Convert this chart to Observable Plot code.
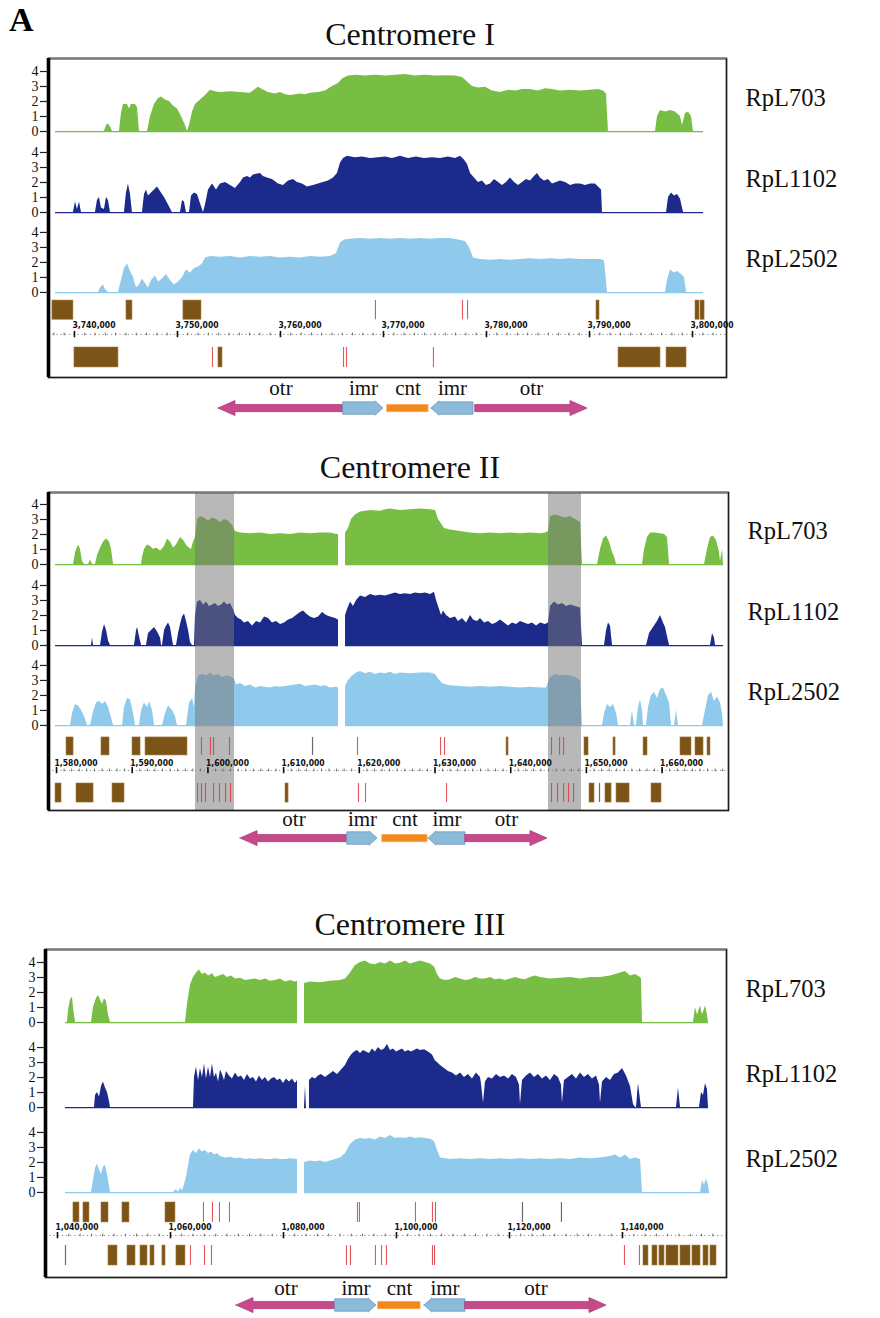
<!DOCTYPE html>
<html>
<head>
<meta charset="utf-8">
<script src="https://cdn.jsdelivr.net/npm/d3@7"></script>
<script src="https://cdn.jsdelivr.net/npm/@observablehq/plot@0.6"></script>
<style>
html,body{margin:0;padding:0;background:#fff;}
body{position:relative;width:880px;height:1318px;overflow:hidden;font-family:"Liberation Serif","Times New Roman",serif;color:#000;}
.abs{position:absolute;}
.title{position:absolute;left:0;width:820px;text-align:center;font-size:32px;line-height:32px;white-space:nowrap;color:#111;}
#panelA{left:9px;top:3px;font-size:34px;font-weight:bold;line-height:34px;}
</style>
</head>
<body>
<div id="panelA" class="abs">A</div>
<div class="title" style="top:18px">Centromere I</div>
<div id="p1" class="abs" style="left:0;top:50px"></div>
<div class="title" style="top:451px">Centromere II</div>
<div id="p2" class="abs" style="left:0;top:485px"></div>
<div class="title" style="top:908px">Centromere III</div>
<div id="p3" class="abs" style="left:0;top:942px"></div>
<script>
// ---------------- DATA ----------------
const trackNames = ["RpL703", "RpL1102", "RpL2502"];
const trackColors = ["#78bd44", "#1c2b8b", "#8fc9ec"];
const yTicks = [0, 1, 2, 3, 4];

// positions in kb, values = ChIP enrichment (null = no data / gap)
// ---- Centromere I ----
const c1_RpL703 = [[3738.16,0],[3742.91,0],[3743.11,0.4],[3743.30,0.5],[3743.50,0.3],[3743.69,0],[3744.37,0],[3744.56,1.2],[3744.76,1.8],[3745.15,1.8],[3745.34,1.5],[3745.53,1.8],[3745.92,1.8],[3746.12,1.6],[3746.31,0],[3747.09,0],[3747.38,1.0],[3747.77,1.8],[3748.16,2.2],[3748.45,2.3],[3748.83,2.1],[3749.22,2.0],[3749.61,1.7],[3750.00,1.5],[3750.39,1.0],[3750.78,0.4],[3750.97,0],[3751.17,0.4],[3751.46,1.3],[3751.75,1.8],[3752.23,2.1],[3752.72,2.4],[3753.20,2.75],[3753.69,2.65],[3754.17,2.6],[3755.15,2.65],[3756.12,2.6],[3757.09,2.55],[3757.57,2.8],[3757.86,2.95],[3758.25,2.8],[3758.83,2.6],[3759.51,2.5],[3760.00,2.6],[3760.49,2.45],[3760.97,2.4],[3761.94,2.5],[3762.43,2.45],[3762.91,2.55],[3763.69,2.6],[3764.37,2.7],[3765.05,3.0],[3765.63,3.2],[3766.02,3.5],[3766.60,3.7],[3767.28,3.75],[3768.25,3.7],[3769.22,3.75],[3770.19,3.7],[3771.17,3.75],[3772.14,3.8],[3773.11,3.7],[3774.08,3.75],[3775.05,3.7],[3776.02,3.72],[3776.99,3.7],[3777.67,3.6],[3778.16,3.3],[3778.64,3.0],[3779.22,2.9],[3779.90,2.95],[3780.58,2.7],[3781.36,2.6],[3782.14,2.75],[3782.82,2.7],[3783.50,2.8],[3784.27,2.8],[3785.05,2.7],[3785.73,2.85],[3786.41,2.8],[3787.18,2.7],[3788.16,2.75],[3789.13,2.7],[3790.10,2.75],[3790.87,2.8],[3791.36,2.7],[3791.65,2.5],[3791.84,0],[3796.41,0],[3796.60,1.0],[3796.89,1.4],[3797.38,1.3],[3797.86,1.4],[3798.35,1.3],[3798.83,1.0],[3799.03,0.4],[3799.32,1.2],[3799.61,1.3],[3799.90,1.0],[3800.10,0],[3801.07,0]];
const c1_RpL1102 = [[3738.16,0],[3739.90,0],[3740.10,0.7],[3740.29,0.2],[3740.49,0.7],[3740.68,0],[3742.04,0],[3742.23,0.8],[3742.43,1.0],[3742.62,0.3],[3742.91,0.2],[3743.11,1.0],[3743.30,0.8],[3743.50,0],[3744.85,0],[3745.05,1.3],[3745.24,1.9],[3745.44,1.2],[3745.63,0],[3746.60,0],[3746.80,1.2],[3746.99,1.5],[3747.18,1.1],[3747.48,1.3],[3747.77,1.5],[3748.06,1.7],[3748.35,1.4],[3748.74,1.0],[3749.13,0.5],[3749.51,0],[3750.29,0],[3750.49,0.8],[3750.68,0.7],[3750.87,0],[3751.17,0],[3751.36,1.1],[3751.65,1.3],[3751.94,1.2],[3752.23,0.6],[3752.52,0],[3752.72,0.5],[3753.01,1.5],[3753.40,1.9],[3753.79,1.5],[3754.17,1.9],[3754.66,2.0],[3755.15,1.8],[3755.63,1.6],[3756.12,2.0],[3756.41,2.3],[3756.80,2.4],[3757.09,2.3],[3757.38,2.5],[3757.67,2.55],[3758.06,2.6],[3758.35,2.4],[3758.74,2.3],[3759.22,2.2],[3759.81,1.9],[3760.29,1.8],[3760.78,2.1],[3761.26,2.2],[3761.65,2.0],[3762.14,1.9],[3762.62,1.7],[3763.20,1.8],[3763.69,1.9],[3764.17,2.0],[3764.66,2.1],[3765.15,2.3],[3765.53,2.6],[3765.83,3.3],[3766.12,3.6],[3766.50,3.75],[3767.28,3.65],[3767.96,3.7],[3768.74,3.6],[3769.51,3.65],[3770.19,3.7],[3770.87,3.6],[3771.65,3.75],[3772.43,3.6],[3773.20,3.7],[3773.98,3.6],[3774.76,3.65],[3775.53,3.6],[3776.31,3.7],[3776.99,3.6],[3777.48,3.75],[3777.86,3.5],[3778.16,3.2],[3778.45,2.6],[3778.83,2.3],[3779.22,2.0],[3779.61,2.1],[3780.00,1.8],[3780.39,1.9],[3780.78,2.2],[3781.17,2.0],[3781.55,1.8],[3781.94,2.0],[3782.33,2.3],[3782.72,2.0],[3783.11,1.8],[3783.50,2.0],[3783.88,2.2],[3784.27,2.1],[3784.66,2.4],[3784.95,2.6],[3785.24,2.3],[3785.63,2.1],[3786.02,2.2],[3786.41,1.9],[3786.80,2.0],[3787.18,2.1],[3787.67,2.0],[3788.16,1.8],[3788.64,1.9],[3789.13,1.9],[3789.61,1.8],[3790.10,1.9],[3790.58,1.9],[3790.87,1.7],[3791.17,1.5],[3791.26,0],[3797.48,0],[3797.67,1.0],[3797.96,1.3],[3798.25,1.1],[3798.54,1.2],[3798.83,0.9],[3799.13,0],[3801.07,0]];
const c1_RpL2502 = [[3738.16,0],[3742.33,0],[3742.52,0.3],[3742.82,0.5],[3743.01,0.2],[3743.30,0],[3744.27,0],[3744.56,0.8],[3744.85,1.6],[3745.15,1.9],[3745.44,1.4],[3745.73,1.0],[3746.02,0.3],[3746.31,0.5],[3746.60,0.9],[3746.89,0.6],[3747.18,0.3],[3747.48,0.8],[3747.86,1.1],[3748.16,0.7],[3748.54,0.9],[3748.93,1.2],[3749.32,0.8],[3749.71,0.5],[3750.10,0.7],[3750.49,1.0],[3750.87,1.5],[3751.26,1.3],[3751.65,1.6],[3752.04,1.7],[3752.43,1.9],[3752.72,2.3],[3753.20,2.4],[3754.17,2.35],[3755.15,2.4],[3756.12,2.3],[3757.09,2.4],[3758.06,2.35],[3759.03,2.4],[3760.00,2.3],[3760.97,2.35],[3761.94,2.3],[3762.91,2.4],[3763.88,2.35],[3764.85,2.4],[3765.44,2.6],[3765.83,3.3],[3766.21,3.5],[3766.80,3.55],[3767.77,3.6],[3768.74,3.55],[3769.71,3.6],[3770.68,3.55],[3771.65,3.6],[3772.62,3.55],[3773.59,3.6],[3774.56,3.55],[3775.53,3.6],[3776.50,3.6],[3777.28,3.5],[3777.96,3.4],[3778.35,3.0],[3778.74,2.3],[3779.42,2.2],[3780.39,2.15],[3781.36,2.2],[3782.33,2.15],[3783.30,2.2],[3784.27,2.25],[3785.24,2.2],[3786.21,2.25],[3787.18,2.2],[3788.16,2.25],[3789.13,2.2],[3790.10,2.2],[3791.07,2.2],[3791.46,2.1],[3791.75,0],[3797.38,0],[3797.57,0.8],[3797.86,1.5],[3798.25,1.3],[3798.54,1.4],[3798.93,1.2],[3799.22,1.0],[3799.42,0],[3801.07,0]];
const c1_genesTop = [[3737.86,3739.90],[3745.05,3745.63],[3750.58,3752.33],[3790.68,3790.97],[3800.29,3800.68],[3800.78,3801.17]];
const c1_genesBottom = [[3740.00,3744.27],[3753.98,3754.37],[3792.82,3796.89],[3797.48,3799.42]];
const c1_featTop = [3769.22,3777.67,3778.16];
const c1_featBottom = [3753.40,3766.12,3766.41,3774.85];
const c1_otherTop = [];
const c1_otherBottom = [];
const c1_ticks = [3740,3750,3760,3770,3780,3790,3800];
const c1_regions = [
  {name:"otr", start:3753.98, end:3766.12, dir:"left"},
  {name:"imr", start:3766.12, end:3770.00, dir:"right"},
  {name:"cnt", start:3770.39, end:3774.37, dir:"none"},
  {name:"imr", start:3774.66, end:3778.74, dir:"left"},
  {name:"otr", start:3778.93, end:3789.81, dir:"right"}];
const c1_bands = [];

// ---- Centromere II ----
const c2_RpL703 = [[1579.87,0],[1582.25,0],[1582.51,0.8],[1582.91,1.3],[1583.17,1.0],[1583.43,0.2],[1583.70,0],[1584.23,0],[1584.49,0.3],[1584.76,0],[1585.15,0],[1585.42,0.6],[1585.81,1.1],[1586.21,1.5],[1586.61,1.7],[1587.00,1.5],[1587.27,1.0],[1587.53,0],[1591.23,0],[1591.36,0.5],[1591.62,1.0],[1592.02,1.3],[1592.42,1.2],[1592.81,1.0],[1593.21,1.1],[1593.74,0.9],[1594.27,1.2],[1594.66,1.7],[1595.06,1.5],[1595.46,1.1],[1595.85,1.3],[1596.38,1.8],[1596.78,1.6],[1597.31,1.2],[1597.83,1.0],[1598.10,1.5],[1598.36,1.8],[1598.63,3.0],[1599.02,3.2],[1599.55,3.1],[1600.08,2.9],[1600.61,3.1],[1601.14,3.0],[1601.66,2.8],[1602.19,3.0],[1602.72,2.9],[1603.25,2.6],[1603.65,2.2],[1604.31,2.1],[1605.63,2.05],[1606.95,2.1],[1608.27,2.0],[1609.59,2.05],[1610.91,2.0],[1612.23,2.1],[1613.55,2.05],[1614.87,2.1],[1616.20,2.1],[1616.99,2.0],[1617.25,2.0],[1617.7,null],[1618.18,2.1],[1618.57,2.4],[1618.97,3.0],[1619.50,3.3],[1620.16,3.5],[1621.48,3.6],[1622.80,3.55],[1623.46,3.65],[1624.12,3.7],[1625.44,3.6],[1626.76,3.65],[1628.08,3.7],[1629.41,3.65],[1630.07,3.6],[1630.46,3.0],[1630.86,2.7],[1631.25,2.4],[1632.05,2.3],[1633.37,2.2],[1634.69,2.1],[1636.01,2.05],[1637.33,2.1],[1638.65,2.05],[1639.97,2.1],[1641.29,2.05],[1642.62,2.1],[1643.94,2.05],[1644.60,2.1],[1644.99,2.2],[1645.26,3.2],[1645.92,3.3],[1646.58,3.2],[1647.24,3.1],[1647.90,3.2],[1648.56,3.0],[1649.22,2.8],[1649.48,0],[1651.47,0],[1651.86,1.0],[1652.26,1.7],[1652.66,1.9],[1653.05,1.5],[1653.45,0.8],[1653.71,0.5],[1653.98,0],[1657.41,0],[1657.68,1.0],[1658.07,1.8],[1658.47,2.1],[1659.13,2.1],[1659.79,2.05],[1660.32,2.0],[1660.71,1.8],[1660.98,0],[1665.60,0],[1665.99,1.0],[1666.39,1.8],[1666.79,1.9],[1667.19,1.6],[1667.58,0.8],[1667.71,0.2],[1667.98,1.0],[1668.11,0]];
const c2_RpL1102 = [[1579.87,0],[1584.62,0],[1584.76,0.5],[1584.89,0],[1585.81,0],[1586.08,0.9],[1586.34,1.4],[1586.61,1.0],[1586.87,0.3],[1587.13,0],[1590.30,0],[1590.57,1.0],[1590.70,1.2],[1590.96,0.6],[1591.23,0],[1591.89,0],[1592.15,0.8],[1592.55,1.0],[1592.95,1.2],[1593.34,0.9],[1593.74,0.5],[1593.87,0],[1594.00,0],[1594.27,1.0],[1594.53,1.3],[1594.80,1.5],[1595.06,1.2],[1595.32,0.4],[1595.46,0],[1595.85,0],[1596.12,0.8],[1596.38,1.4],[1596.64,1.9],[1596.91,2.1],[1597.17,1.6],[1597.44,1.0],[1597.70,0.2],[1597.97,0],[1598.23,0],[1598.36,2.0],[1598.63,2.9],[1599.02,3.0],[1599.42,2.7],[1599.82,2.9],[1600.21,2.6],[1600.61,2.7],[1601.00,2.8],[1601.40,2.6],[1601.80,2.7],[1602.19,2.9],[1602.59,2.7],[1602.99,2.8],[1603.38,2.4],[1603.65,2.0],[1604.04,1.8],[1604.44,1.7],[1604.83,1.5],[1605.36,1.6],[1605.89,1.3],[1606.42,1.6],[1606.95,1.5],[1607.48,1.9],[1608.01,1.8],[1608.53,1.5],[1609.06,1.6],[1609.59,1.4],[1610.12,1.5],[1610.65,1.7],[1611.18,1.8],[1611.70,2.0],[1612.23,2.2],[1612.63,2.3],[1613.03,2.1],[1613.55,1.9],[1614.08,1.8],[1614.61,1.9],[1615.14,2.2],[1615.67,2.0],[1616.20,1.9],[1616.86,1.8],[1617.25,1.7],[1617.7,null],[1618.18,2.0],[1618.44,2.4],[1618.84,2.9],[1619.23,2.6],[1619.63,3.0],[1620.16,3.3],[1620.82,3.2],[1621.48,3.4],[1622.14,3.3],[1622.80,3.35],[1623.46,3.3],[1624.12,3.4],[1624.78,3.5],[1625.44,3.4],[1626.10,3.45],[1626.76,3.4],[1627.42,3.5],[1628.08,3.45],[1628.75,3.5],[1629.41,3.4],[1629.93,3.55],[1630.20,3.0],[1630.46,2.6],[1630.86,2.0],[1631.12,2.3],[1631.52,2.0],[1632.05,1.8],[1632.71,1.9],[1633.10,1.6],[1633.63,1.8],[1634.16,1.5],[1634.69,2.0],[1635.09,1.7],[1635.61,1.6],[1636.01,1.8],[1636.54,1.5],[1637.07,1.6],[1637.60,1.4],[1638.12,1.5],[1638.65,1.7],[1639.18,1.5],[1639.71,1.3],[1640.24,1.5],[1640.77,1.4],[1641.29,1.6],[1641.82,1.5],[1642.35,1.4],[1642.88,1.5],[1643.41,1.3],[1643.94,1.5],[1644.60,1.4],[1644.99,1.5],[1645.26,2.6],[1645.79,2.9],[1646.31,2.7],[1646.84,2.8],[1647.37,2.6],[1647.90,2.7],[1648.56,2.6],[1649.22,2.5],[1649.48,0],[1652.39,0],[1652.66,1.0],[1652.92,1.5],[1653.18,1.3],[1653.45,0],[1657.94,0],[1658.34,0.8],[1658.86,1.2],[1659.39,1.6],[1659.79,2.0],[1660.18,1.5],[1660.45,1.2],[1660.71,0.6],[1660.98,0],[1666.39,0],[1666.66,0.8],[1666.92,0.5],[1667.05,0],[1668.11,0]];
const c2_RpL2502 = [[1579.87,0],[1581.85,0],[1582.11,0.8],[1582.51,1.4],[1582.91,1.3],[1583.30,1.0],[1583.70,0.6],[1584.10,0],[1584.49,0],[1584.89,0.9],[1585.28,1.5],[1585.68,1.6],[1586.08,1.4],[1586.47,1.6],[1586.87,1.2],[1587.27,0.5],[1587.53,0],[1588.72,0],[1588.98,1.2],[1589.38,1.8],[1589.78,1.7],[1590.17,0.8],[1590.44,0],[1590.96,0],[1591.23,1.0],[1591.62,1.5],[1592.02,1.2],[1592.29,1.6],[1592.68,1.0],[1592.95,0],[1594.00,0],[1594.40,0.8],[1594.80,1.3],[1595.32,1.0],[1595.72,0.6],[1595.98,0],[1597.17,0],[1597.57,1.5],[1597.97,1.8],[1598.23,1.2],[1598.36,2.5],[1598.76,3.3],[1599.29,3.4],[1599.82,3.3],[1600.34,3.5],[1600.87,3.3],[1601.40,3.4],[1601.93,3.2],[1602.46,3.3],[1602.99,3.25],[1603.51,3.1],[1603.78,2.7],[1604.31,2.8],[1604.97,2.6],[1605.63,2.7],[1606.29,2.5],[1606.95,2.6],[1607.61,2.55],[1608.27,2.5],[1608.93,2.6],[1609.59,2.55],[1610.25,2.6],[1610.91,2.65],[1611.57,2.7],[1612.23,2.75],[1612.89,2.6],[1613.55,2.65],[1614.21,2.7],[1614.87,2.6],[1615.54,2.65],[1616.20,2.5],[1616.99,2.55],[1617.25,2.5],[1617.7,null],[1618.18,2.6],[1618.57,3.0],[1619.10,3.3],[1619.63,3.5],[1620.16,3.6],[1620.82,3.45],[1621.48,3.55],[1622.14,3.4],[1622.80,3.5],[1623.46,3.45],[1624.12,3.55],[1624.78,3.4],[1625.44,3.5],[1626.76,3.45],[1628.08,3.5],[1629.41,3.5],[1630.07,3.4],[1630.46,3.1],[1630.99,2.8],[1631.52,2.7],[1632.05,2.65],[1633.37,2.6],[1634.69,2.55],[1636.01,2.6],[1637.33,2.55],[1638.65,2.6],[1639.97,2.55],[1641.29,2.5],[1642.62,2.55],[1643.94,2.5],[1644.73,2.5],[1645.26,3.2],[1645.92,3.4],[1646.58,3.3],[1647.24,3.35],[1647.90,3.3],[1648.56,3.2],[1649.22,3.0],[1649.48,0],[1652.13,0],[1652.39,0.8],[1652.79,1.4],[1653.18,1.2],[1653.58,1.4],[1653.98,0.8],[1654.24,0],[1655.82,0],[1656.08,1.0],[1656.35,0],[1656.61,0],[1656.88,1.2],[1657.15,1.7],[1657.41,1.0],[1657.54,0],[1657.94,0],[1658.20,1.2],[1658.60,2.0],[1658.99,2.2],[1659.39,1.8],[1659.79,2.4],[1660.18,2.5],[1660.58,2.0],[1660.98,1.5],[1661.24,0],[1661.64,0],[1661.90,1.0],[1662.17,0],[1665.34,0],[1665.73,1.0],[1666.13,2.0],[1666.53,2.2],[1666.92,1.6],[1667.32,1.9],[1667.71,1.5],[1667.98,0.8],[1668.11,0]];
const c2_genesTop = [[1581.32,1582.25],[1585.94,1587.00],[1590.04,1591.10],[1591.76,1597.30],[1639.45,1639.71],[1649.75,1650.28],[1653.58,1653.85],[1657.55,1658.07],[1662.43,1663.88],[1664.41,1665.47],[1666.00,1666.39]];
const c2_genesBottom = [[1579.87,1580.66],[1582.64,1584.89],[1587.40,1588.98],[1610.25,1610.65],[1650.41,1651.07],[1652.52,1653.32],[1653.98,1655.70],[1658.60,1659.92]];
const c2_featTop = [1599.15,1600.34,1600.74,1602.85,1619.76,1630.73,1631.26,1645.39,1646.45,1646.98];
const c2_featBottom = [1598.63,1599.15,1599.68,1600.74,1601.53,1602.33,1602.99,1619.89,1620.82,1631.52,1645.39,1646.18,1646.98,1647.64,1648.30];
const c2_otherTop = [1613.82];
const c2_otherBottom = [1651.73];
const c2_ticks = [1580,1590,1600,1610,1620,1630,1640,1650,1660];
const c2_regions = [
  {name:"otr", start:1604.31, end:1618.44, dir:"left"},
  {name:"imr", start:1618.44, end:1622.40, dir:"right"},
  {name:"cnt", start:1623.07, end:1629.01, dir:"none"},
  {name:"imr", start:1629.14, end:1634.03, dir:"left"},
  {name:"otr", start:1634.03, end:1644.86, dir:"right"}];
const c2_bands = [[1598.36,1603.51],[1644.99,1649.35]];

// ---- Centromere III ----
const c3_RpL703 = [[1041.42,0],[1041.77,0],[1041.95,0.8],[1042.30,1.5],[1042.65,1.7],[1042.83,1.0],[1043.19,0],[1046.02,0],[1046.37,1.0],[1046.90,1.6],[1047.26,1.8],[1047.61,1.5],[1047.96,1.2],[1048.32,1.6],[1048.67,1.4],[1049.03,0.5],[1049.38,0],[1062.65,0],[1063.01,1.2],[1063.54,2.5],[1064.07,3.0],[1064.60,3.3],[1065.13,3.5],[1065.66,3.2],[1066.19,3.3],[1066.73,3.1],[1067.43,3.25],[1067.96,3.0],[1068.67,3.1],[1069.38,3.2],[1070.09,3.0],[1070.80,3.1],[1071.50,2.9],[1072.39,2.95],[1073.27,2.8],[1074.16,2.85],[1075.04,2.9],[1075.93,2.8],[1076.81,2.9],[1077.70,2.75],[1078.58,2.8],[1079.47,2.9],[1080.35,2.7],[1081.24,2.8],[1082.12,2.7],[1082.48,2.75],[1083.2,null],[1083.72,2.6],[1084.78,2.7],[1086.55,2.65],[1088.32,2.75],[1090.09,2.8],[1090.97,2.9],[1091.86,3.3],[1092.74,3.8],[1093.63,4.0],[1094.51,4.1],[1095.40,3.9],[1096.28,3.85],[1097.17,4.0],[1098.05,3.9],[1098.94,4.1],[1099.82,3.9],[1100.71,3.95],[1101.59,4.1],[1102.48,3.9],[1103.36,4.0],[1104.25,4.1],[1105.13,4.0],[1106.02,3.9],[1106.73,3.7],[1107.26,3.2],[1107.79,2.9],[1108.67,2.8],[1109.56,2.85],[1110.44,3.0],[1111.33,2.9],[1112.21,2.8],[1113.10,2.85],[1113.98,3.0],[1114.87,2.9],[1115.75,2.9],[1116.64,3.0],[1117.52,2.85],[1118.41,2.9],[1119.29,2.8],[1120.18,2.9],[1121.06,3.0],[1121.95,2.9],[1122.83,2.85],[1123.72,3.0],[1124.60,3.1],[1125.49,3.0],[1127.26,2.9],[1129.03,2.95],[1130.80,3.0],[1132.57,2.9],[1134.34,3.0],[1136.11,3.0],[1137.88,3.1],[1139.65,3.3],[1140.53,3.4],[1141.42,3.1],[1142.30,3.2],[1143.19,3.0],[1143.36,2.9],[1143.54,0],[1152.57,0],[1152.92,1.0],[1153.27,0.5],[1153.81,1.1],[1154.16,0.5],[1154.69,1.1],[1155.04,0.5],[1155.22,0]];
const c3_RpL1102 = [[1041.42,0],[1046.55,0],[1046.73,0.8],[1047.08,1.0],[1047.43,0.7],[1047.79,1.4],[1048.14,1.7],[1048.50,1.3],[1048.85,1.0],[1049.20,0.4],[1049.38,0],[1064.07,0],[1064.25,2.0],[1064.60,2.7],[1064.96,1.8],[1065.31,2.6],[1065.66,2.0],[1066.02,2.9],[1066.37,1.9],[1066.73,2.7],[1067.08,2.0],[1067.43,2.9],[1067.79,2.0],[1068.14,2.3],[1068.50,1.7],[1068.85,2.5],[1069.20,2.2],[1069.56,1.8],[1069.91,2.4],[1070.44,2.1],[1070.97,1.9],[1071.50,2.3],[1072.04,2.0],[1072.57,2.1],[1073.10,1.8],[1073.63,2.2],[1074.16,1.9],[1074.69,2.0],[1075.22,1.7],[1075.75,2.1],[1076.28,1.8],[1076.81,2.0],[1077.35,1.7],[1077.88,1.9],[1078.41,2.0],[1078.94,1.8],[1079.47,1.9],[1080.00,1.6],[1080.53,1.9],[1081.06,1.7],[1081.59,1.9],[1082.12,1.6],[1082.48,1.8],[1083.2,null],[1083.72,0],[1083.89,1.4],[1084.07,0],[1084.3,null],[1084.60,1.8],[1085.13,2.0],[1085.66,1.9],[1086.19,2.1],[1086.73,2.2],[1087.43,2.0],[1088.14,2.2],[1088.85,2.4],[1089.56,2.2],[1090.27,2.5],[1090.97,2.8],[1091.50,3.2],[1092.04,3.5],[1092.57,3.7],[1093.10,3.8],[1093.63,3.6],[1094.16,3.8],[1094.69,3.7],[1095.22,3.6],[1095.75,3.9],[1096.28,3.7],[1096.81,4.0],[1097.35,3.8],[1097.88,3.9],[1098.41,4.2],[1098.94,3.8],[1099.47,3.9],[1100.00,3.7],[1100.53,3.8],[1101.06,3.9],[1101.59,3.7],[1102.12,3.8],[1102.65,3.7],[1103.19,3.8],[1103.72,3.9],[1104.25,3.8],[1104.96,3.85],[1105.66,3.7],[1106.37,3.5],[1106.90,3.1],[1107.26,3.0],[1107.79,2.8],[1108.50,2.6],[1109.20,2.4],[1109.91,2.3],[1110.62,2.1],[1111.33,2.3],[1112.04,2.0],[1112.74,2.2],[1113.45,1.9],[1114.16,2.3],[1114.87,2.0],[1115.04,1.6],[1115.40,0.3],[1115.75,1.7],[1116.28,2.0],[1116.99,1.9],[1117.70,2.2],[1118.41,2.0],[1119.12,2.1],[1119.82,1.9],[1120.53,2.2],[1121.24,2.0],[1121.77,1.5],[1121.95,0.2],[1122.30,1.8],[1123.01,2.1],[1123.72,2.3],[1124.42,2.0],[1125.13,2.2],[1125.84,1.9],[1126.55,2.1],[1127.26,1.8],[1127.96,2.2],[1128.67,2.0],[1129.20,1.5],[1129.38,0.3],[1129.73,1.8],[1130.44,2.0],[1131.15,2.2],[1131.86,1.9],[1132.57,2.3],[1133.27,2.0],[1133.98,2.2],[1134.69,1.9],[1135.40,2.1],[1135.93,1.5],[1136.11,0.3],[1136.46,1.7],[1137.17,2.0],[1137.88,1.8],[1138.58,2.2],[1139.29,2.3],[1140.00,2.6],[1140.71,2.1],[1141.42,1.4],[1141.95,0.2],[1142.30,0],[1142.48,0],[1142.83,1.6],[1143.19,0.5],[1143.36,0],[1149.56,0],[1149.91,1.3],[1150.27,0],[1153.63,0],[1153.98,1.0],[1154.34,0.8],[1154.69,1.6],[1155.04,1.2],[1155.22,0]];
const c3_RpL2502 = [[1041.42,0],[1046.02,0],[1046.37,0.8],[1046.73,1.6],[1047.08,1.9],[1047.43,1.5],[1047.79,1.2],[1048.14,1.7],[1048.50,1.8],[1048.85,1.2],[1049.20,0.4],[1049.38,0],[1060.53,0],[1061.06,0.2],[1061.42,0],[1061.77,0.3],[1062.12,0.1],[1062.48,0.5],[1062.83,1.0],[1063.19,1.8],[1063.54,2.5],[1064.07,2.8],[1064.60,2.6],[1065.13,2.9],[1065.66,2.7],[1066.19,2.8],[1066.73,2.6],[1067.26,2.7],[1067.79,2.5],[1068.32,2.6],[1068.85,2.4],[1069.73,2.3],[1070.62,2.35],[1071.50,2.25],[1072.39,2.3],[1073.27,2.2],[1074.16,2.25],[1075.04,2.2],[1075.93,2.25],[1076.81,2.2],[1077.70,2.2],[1078.58,2.25],[1079.47,2.2],[1080.35,2.2],[1081.24,2.25],[1082.48,2.2],[1083.2,null],[1083.72,2.0],[1084.78,2.1],[1085.66,2.05],[1086.55,2.1],[1087.43,2.0],[1088.32,2.1],[1089.20,2.2],[1090.09,2.3],[1090.97,2.6],[1091.86,3.2],[1092.74,3.5],[1093.63,3.6],[1094.51,3.55],[1095.40,3.6],[1096.28,3.5],[1097.17,3.7],[1098.05,3.6],[1098.94,3.8],[1099.82,3.6],[1100.71,3.65],[1101.59,3.6],[1102.48,3.7],[1103.36,3.6],[1104.25,3.65],[1105.13,3.6],[1106.02,3.55],[1106.73,3.4],[1107.26,2.8],[1107.79,2.3],[1109.56,2.2],[1111.33,2.25],[1113.10,2.2],[1114.87,2.25],[1116.64,2.2],[1118.41,2.25],[1120.18,2.2],[1121.95,2.25],[1123.72,2.2],[1125.49,2.25],[1127.26,2.2],[1129.03,2.25],[1130.80,2.2],[1132.57,2.3],[1134.34,2.25],[1136.11,2.3],[1137.88,2.4],[1138.76,2.5],[1139.65,2.3],[1140.53,2.5],[1141.42,2.2],[1142.30,2.3],[1143.19,2.2],[1143.54,0],[1153.81,0],[1154.16,0.8],[1154.51,0.5],[1154.87,0.9],[1155.22,0.5],[1155.40,0]];
const c3_genesTop = [[1042.83,1043.89],[1044.60,1045.66],[1047.79,1049.03],[1051.50,1052.74],[1059.12,1060.88]];
const c3_genesBottom = [[1049.03,1050.62],[1052.39,1053.81],[1054.69,1055.93],[1056.46,1057.17],[1058.58,1059.12],[1061.06,1062.65],[1143.72,1144.60],[1145.31,1146.19],[1146.55,1147.43],[1147.79,1149.91],[1150.27,1152.04],[1152.39,1153.81],[1154.34,1155.22],[1155.58,1156.64]];
const c3_featTop = [1065.84,1067.43,1068.67,1070.44,1093.10,1093.45,1103.36,1106.37,1106.90];
const c3_featBottom = [1063.54,1066.02,1067.26,1091.15,1091.86,1096.28,1097.35,1098.23,1106.37,1106.73,1140.35,1143.01];
const c3_otherTop = [1122.30,1129.20];
const c3_otherBottom = [1041.42];
const c3_ticks = [1040,1060,1080,1100,1120,1140];
const c3_regions = [
  {name:"otr", start:1071.68, end:1089.20, dir:"left"},
  {name:"imr", start:1089.20, end:1096.46, dir:"right"},
  {name:"cnt", start:1096.81, end:1104.25, dir:"none"},
  {name:"imr", start:1104.96, end:1112.21, dir:"left"},
  {name:"otr", start:1112.21, end:1137.17, dir:"right"}];
const c3_bands = [];

// ---------------- STYLE / LAYOUT ----------------
const SERIF = "'Liberation Serif','Times New Roman',serif";
const NARROW = "'Liberation Sans Narrow','Arial Narrow','DejaVu Sans Condensed',sans-serif";
const regionStyle = {
  otr: {fill: "#c44a8c", stroke: "#b03f7c", shaft: 3.6, head: 7.5, headLen: 17},
  imr: {fill: "#8dbad9", stroke: "#6d9dc3", shaft: 6.2, head: 7.2, headLen: 8},
  cnt: {fill: "#f28a1b", stroke: "#f6a550", shaft: 3.6, head: 3.6, headLen: 0}
};
const PXU = 15; // px per enrichment unit

function drawPanel(el, cfg) {
  const L = cfg.layout;
  const marks = [];
  // coverage tracks
  cfg.coverage.forEach((series, i) => {
    const b = L.bases[i];
    const rows = series.map(([x, v]) => ({x, lo: v == null ? NaN : b - 0.08, hi: v == null ? NaN : b + v}));
    marks.push(Plot.areaY(rows, {x: "x", y1: "lo", y2: "hi", fill: trackColors[i]}));
  });
  // highlight bands (drawn over tracks)
  if (cfg.bands.length) marks.push(Plot.rect(cfg.bands, {x1: d => d[0], x2: d => d[1], fill: "#777", fillOpacity: 0.52}));
  // coordinate ruler
  marks.push(Plot.ruleY([L.dot], {stroke: "#8a8a8a", strokeWidth: 1, strokeDasharray: "1.2,3"}));
  marks.push(Plot.ruleX(d3.range(cfg.minor[0], cfg.minor[1] + 1e-6, cfg.minor[2]), {x: d => d, y1: () => L.dot - 0.09, y2: () => L.dot + 0.09, stroke: "#666", strokeWidth: 1}));
  marks.push(Plot.ruleX(cfg.ticks, {x: d => d, y1: () => L.dot - 0.22, y2: () => L.dot + 0.2, stroke: "#111", strokeWidth: 1.6}));
  marks.push(Plot.text(cfg.ticks, {ariaLabel: "coordlabels", x: d => d, y: () => L.lab, text: d => d3.format(",")(Math.round(d * 1000)), textAnchor: "start", dx: -2, fontSize: 8.5, fontWeight: "bold", fontFamily: NARROW, fill: "#111"}));
  // gene / feature tracks
  const strands = [[cfg.genesTop, cfg.featTop, cfg.otherTop, L.top], [cfg.genesBottom, cfg.featBottom, cfg.otherBottom, L.bottom]];
  for (const [genes, feats, others, yy] of strands) {
    marks.push(Plot.ruleX(feats, {x: d => d, y1: () => yy[0], y2: () => yy[1], stroke: "#e0383e", strokeWidth: 1.1, strokeOpacity: 0.85}));
    marks.push(Plot.ruleX(others, {x: d => d, y1: () => yy[0], y2: () => yy[1], stroke: "#6a6a6a", strokeWidth: 1.2}));
    marks.push(Plot.rect(genes, {x1: d => d[0], x2: d => d[1], y1: () => yy[0], y2: () => yy[1], fill: "#7c5418", stroke: "#a47b3c", strokeWidth: 0.6}));
  }
  // schematic of centromere domains
  cfg.regions.forEach((r, i) => {
    const st = regionStyle[r.name];
    const c = L.schem, sh = st.shaft / PXU, hh = st.head / PXU, hl = st.headLen / cfg.pxPerKb;
    let pts;
    if (r.dir === "left") pts = [[r.start, 0], [r.start + hl, hh], [r.start + hl, sh], [r.end, sh]];
    else if (r.dir === "right") pts = [[r.start, sh], [r.end - hl, sh], [r.end - hl, hh], [r.end, 0]];
    else pts = [[r.start, sh], [r.end, sh]];
    const rows = pts.map(([x, h]) => ({x, lo: c - h, hi: c + h}));
    marks.push(Plot.areaY(rows, {x: "x", y1: "lo", y2: "hi", fill: st.fill, stroke: st.stroke, strokeWidth: 0.8}));
  });
  marks.push(Plot.text(cfg.regions, {x: r => (r.start + r.end) / 2, y: () => L.schemLab, text: "name", fontSize: 21, fontFamily: SERIF, fill: "#111"}));
  // frame
  marks.push(Plot.frame({stroke: "#1a1a1a", strokeWidth: 1.7}));
  marks.push(Plot.ruleY([L.H], {stroke: "#7a7a7a", strokeWidth: 1.8}));
  marks.push(Plot.ruleX([cfg.domain[0]], {stroke: "#000", strokeWidth: 3.6}));
  // y axis (0-4 for each track)
  const yVals = L.bases.flatMap(b => yTicks.map(k => b + k));
  marks.push(Plot.axisY(yVals, {
    tickFormat: d => { const b = L.bases.find(b => d >= b - 1e-6 && d <= b + 4 + 1e-6); return String(Math.round(d - b)); },
    tickSize: 8, tickPadding: 2, fontSize: 14, fontFamily: SERIF, label: null, stroke: "#222", strokeWidth: 1.2
  }));
  // track labels
  marks.push(Plot.text(trackNames, {y: (d, i) => L.bases[i] + 2.25, text: d => d, frameAnchor: "right", dx: 19, textAnchor: "start", fontSize: 24.5, fontFamily: SERIF, fill: "#111"}));

  const svg = Plot.plot({
    width: 880, height: cfg.height,
    marginLeft: cfg.margins[0], marginRight: cfg.margins[1], marginTop: cfg.margins[2], marginBottom: cfg.margins[3],
    x: {domain: cfg.domain, axis: null},
    y: {domain: [0, L.H]},
    style: {fontFamily: SERIF, background: "transparent", overflow: "visible", color: "#111"},
    marks
  });
  d3.select(svg).selectAll('g[aria-label="coordlabels"] text').attr("letter-spacing", "-0.45");
  el.appendChild(svg);
}

drawPanel(document.getElementById("p1"), {
  coverage: [c1_RpL703, c1_RpL1102, c1_RpL2502],
  genesTop: c1_genesTop, genesBottom: c1_genesBottom, featTop: c1_featTop, featBottom: c1_featBottom,
  otherTop: c1_otherTop, otherBottom: c1_otherBottom, ticks: c1_ticks, regions: c1_regions, bands: c1_bands,
  minor: [3738, 3802, 1], domain: [3737.48, 3803.30], pxPerKb: 10.3,
  height: 390, margins: [48, 154, 8, 63],
  layout: {H: 319 / PXU, bases: [16.4, 11.0, 5.67], top: [3.85, 5.13], bottom: [0.67, 2.0], lab: 3.5, dot: 2.87, schem: -2.07, schemLab: -0.75}
});
drawPanel(document.getElementById("p2"), {
  coverage: [c2_RpL703, c2_RpL1102, c2_RpL2502],
  genesTop: c2_genesTop, genesBottom: c2_genesBottom, featTop: c2_featTop, featBottom: c2_featBottom,
  otherTop: c2_otherTop, otherBottom: c2_otherBottom, ticks: c2_ticks, regions: c2_regions, bands: c2_bands,
  minor: [1579, 1668, 1], domain: [1578.94, 1668.77], pxPerKb: 7.57,
  height: 375, margins: [48, 152, 7, 50],
  layout: {H: 318 / PXU, bases: [16.4, 11.0, 5.67], top: [3.67, 4.87], bottom: [0.53, 1.8], lab: 3.15, dot: 2.67, schem: -1.87, schemLab: -0.6}
});
drawPanel(document.getElementById("p3"), {
  coverage: [c3_RpL703, c3_RpL1102, c3_RpL2502],
  genesTop: c3_genesTop, genesBottom: c3_genesBottom, featTop: c3_featTop, featBottom: c3_featBottom,
  otherTop: c3_otherTop, otherBottom: c3_otherBottom, ticks: c3_ticks, regions: c3_regions, bands: c3_bands,
  minor: [1040, 1156, 2], domain: [1037.88, 1158.41], pxPerKb: 5.65,
  height: 376, margins: [45, 154, 7, 41],
  layout: {H: 328 / PXU, bases: [17.0, 11.33, 5.67], top: [3.67, 5.0], bottom: [0.8, 2.13], lab: 3.35, dot: 2.8, schem: -1.87, schemLab: -0.75}
});
</script>
</body>
</html>
